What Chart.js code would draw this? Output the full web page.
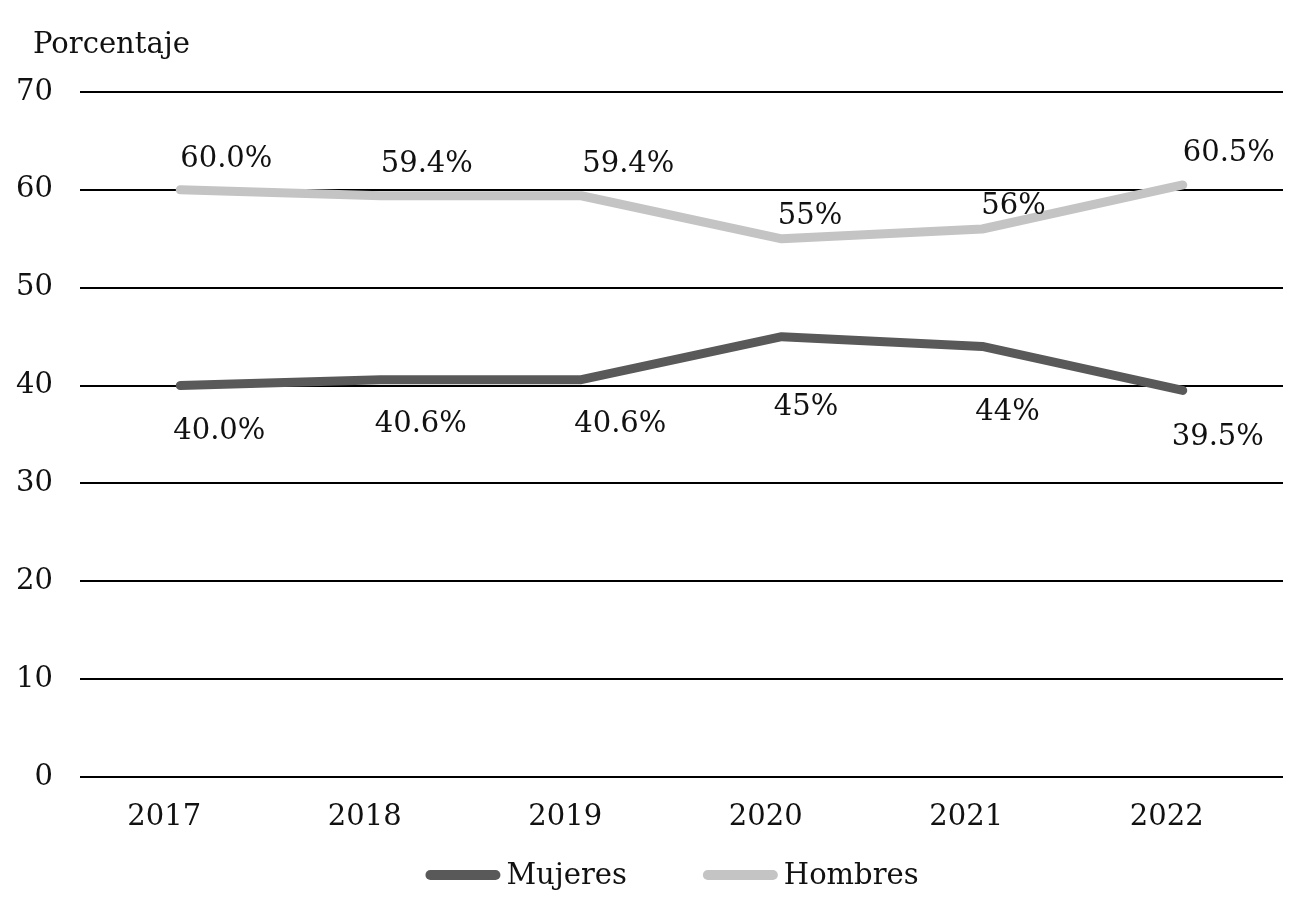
<!DOCTYPE html>
<html>
<head>
<meta charset="utf-8">
<script src="https://cdn.jsdelivr.net/npm/chart.js@4"></script>
<style>
html,body{margin:0;padding:0;background:#fff;}
canvas{display:block;}
</style>
</head>
<body>
<canvas id="c" width="1299" height="921"></canvas>
<script>
const categories = ['2017', '2018', '2019', '2020', '2021', '2022'];
const mujeres = [40.0, 40.6, 40.6, 45, 44, 39.5];
const hombres = [60.0, 59.4, 59.4, 55, 56, 60.5];
const mujeresLabels = ['40.0%', '40.6%', '40.6%', '45%', '44%', '39.5%'];
const hombresLabels = ['60.0%', '59.4%', '59.4%', '55%', '56%', '60.5%'];
const yTicks = [0, 10, 20, 30, 40, 50, 60, 70];
const axisTitle = 'Porcentaje';

const FONT = "'DejaVu Serif', serif";
const FS = 29;
const TEXT = '#111';

const labelPlugin = {
  id: 'pointLabels',
  afterDatasetsDraw(chart, args, opts) {
    const ctx = chart.ctx;
    ctx.save();
    ctx.font = FS + 'px ' + FONT;
    ctx.fillStyle = TEXT;
    ctx.textAlign = 'left';
    ctx.textBaseline = 'middle';
    chart.data.datasets.forEach((ds, di) => {
      const meta = chart.getDatasetMeta(di);
      const offs = opts.offsets[di];
      meta.data.forEach((pt, i) => {
        ctx.fillText(ds.pointText[i], pt.x + offs.dx[i], pt.y + offs.dy[i]);
      });
    });
    ctx.restore();
  }
};

const extrasPlugin = {
  id: 'extras',
  afterDraw(chart) {
    const ctx = chart.ctx;
    ctx.save();
    ctx.font = FS + 'px ' + FONT;
    ctx.fillStyle = TEXT;
    ctx.textAlign = 'left';
    ctx.textBaseline = 'alphabetic';
    ctx.fillText(axisTitle, 33, 53);
    // legend
    const sw = 75, gapT = 6, gapI = 76;
    const items = chart.data.datasets.map(ds => ({
      text: ds.label, color: ds.borderColor, w: sw + gapT + ctx.measureText(ds.label).width
    }));
    const total = items.reduce((a, b) => a + b.w, 0) + gapI * (items.length - 1);
    let x = 672 - total / 2;
    const y = 875;
    items.forEach(it => {
      ctx.strokeStyle = it.color;
      ctx.lineWidth = 10;
      ctx.lineCap = 'round';
      ctx.beginPath();
      ctx.moveTo(x + 5, y);
      ctx.lineTo(x + sw - 5, y);
      ctx.stroke();
      ctx.textBaseline = 'middle';
      ctx.fillText(it.text, x + sw + gapT, y + 1);
      x += it.w + gapI;
    });
    ctx.restore();
  }
};

new Chart(document.getElementById('c'), {
  type: 'line',
  data: {
    labels: categories,
    datasets: [
      {
        label: 'Mujeres', data: mujeres, pointText: mujeresLabels,
        borderColor: '#595959', backgroundColor: '#595959',
        borderWidth: 9, borderCapStyle: 'round', borderJoinStyle: 'round',
        pointRadius: 0, tension: 0
      },
      {
        label: 'Hombres', data: hombres, pointText: hombresLabels,
        borderColor: '#c4c4c4', backgroundColor: '#c4c4c4',
        borderWidth: 9, borderCapStyle: 'round', borderJoinStyle: 'round',
        pointRadius: 0, tension: 0
      }
    ]
  },
  options: {
    responsive: false,
    animation: false,
    devicePixelRatio: 1,
    layout: { padding: { left: 0, right: 16, top: 92, bottom: 86 } },
    plugins: {
      legend: { display: false },
      tooltip: { enabled: false },
      pointLabels: {
        offsets: [
          { dx: [-7, -6, -7, -8, -7, -11], dy: [46, 45, 45, 71, 66, 47] },
          { dx: [0, 0, 1, -4, -1, 0], dy: [-30, -31, -31, -22, -23, -31] }
        ]
      }
    },
    scales: {
      x: {
        offset: true,
        grid: { display: false, drawTicks: false },
        border: { display: false },
        ticks: { font: { family: FONT, size: FS }, color: TEXT, padding: 23, labelOffset: -16 },
        afterFit(s) { s.height = 58; }
      },
      y: {
        min: 0, max: 70,
        afterBuildTicks(s) { s.ticks = yTicks.map(v => ({ value: v })); },
        grid: { color: '#000', lineWidth: 2, drawTicks: false },
        border: { display: false },
        ticks: { font: { family: FONT, size: FS }, color: TEXT, padding: 27 },
        afterFit(s) { s.width = 80; }
      }
    }
  },
  plugins: [labelPlugin, extrasPlugin]
});
</script>
</body>
</html>
